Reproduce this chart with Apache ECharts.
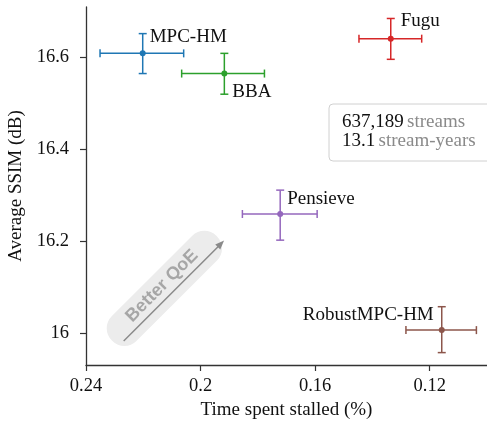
<!DOCTYPE html>
<html>
<head>
<meta charset="utf-8">
<script src="https://cdn.jsdelivr.net/npm/echarts@6/dist/echarts.min.js"></script>
<style>
  html, body { margin: 0; padding: 0; background: #fff; }
  #chart { width: 487px; height: 421px; }
</style>
</head>
<body>
<div id="chart"></div>
<script>
// values
const methods = ['MPC-HM', 'BBA', 'Fugu', 'Pensieve', 'RobustMPC-HM'];
const stallMean = [0.2202, 0.1917, 0.1336, 0.1722, 0.1158];
const stallLow = [0.2059, 0.1777, 0.1228, 0.1593, 0.1037];
const stallHigh = [0.2351, 0.2066, 0.1447, 0.1854, 0.1283];
const ssimMean = [16.609, 16.565, 16.641, 16.259, 16.006];
const ssimLow = [16.565, 16.520, 16.596, 16.202, 15.957];
const ssimHigh = [16.652, 16.609, 16.685, 16.311, 16.057];
const xTicks = [0.24, 0.2, 0.16, 0.12];
const yTicks = [16, 16.2, 16.4, 16.6];

const colors = ['#1f77b4', '#2ca02c', '#d62728', '#9467bd', '#8c564b'];
// label placement per method: [dx, dy, align]
const labelPos = [[7, -16, 'left'], [8, 18, 'left'], [10, -18, 'left'], [7, -15, 'left'], [-8, -15, 'right']];

const serif = '"Liberation Serif", "DejaVu Serif", serif';
const cap = 4;

function renderErr(idx) {
  return function (params, api) {
    const c = api.coord([api.value(0), api.value(1)]);
    const xl = api.coord([api.value(2), api.value(1)]);
    const xh = api.coord([api.value(3), api.value(1)]);
    const yl = api.coord([api.value(0), api.value(4)]);
    const yh = api.coord([api.value(0), api.value(5)]);
    const col = colors[idx];
    const st = { stroke: col, lineWidth: 1.5 };
    const lp = labelPos[idx];
    return {
      type: 'group',
      children: [
        { type: 'line', shape: { x1: xl[0], y1: c[1], x2: xh[0], y2: c[1] }, style: st },
        { type: 'line', shape: { x1: xl[0], y1: c[1] - cap, x2: xl[0], y2: c[1] + cap }, style: st },
        { type: 'line', shape: { x1: xh[0], y1: c[1] - cap, x2: xh[0], y2: c[1] + cap }, style: st },
        { type: 'line', shape: { x1: c[0], y1: yl[1], x2: c[0], y2: yh[1] }, style: st },
        { type: 'line', shape: { x1: c[0] - cap, y1: yl[1], x2: c[0] + cap, y2: yl[1] }, style: st },
        { type: 'line', shape: { x1: c[0] - cap, y1: yh[1], x2: c[0] + cap, y2: yh[1] }, style: st },
        { type: 'circle', shape: { cx: c[0], cy: c[1], r: 3 }, style: { fill: col } },
        {
          type: 'text',
          x: c[0] + lp[0], y: c[1] + lp[1],
          style: {
            text: methods[idx], fill: '#111', font: '19px ' + serif,
            align: lp[2], verticalAlign: 'middle'
          }
        }
      ]
    };
  };
}

const series = methods.map(function (m, i) {
  return {
    name: m,
    type: 'custom',
    renderItem: renderErr(i),
    clip: false,
    data: [[stallMean[i], ssimMean[i], stallLow[i], stallHigh[i], ssimLow[i], ssimHigh[i]]]
  };
});

const chart = echarts.init(document.getElementById('chart'));
chart.setOption({
  animation: false,
  grid: { left: 86, right: 0, top: 7, bottom: 56, outerBoundsMode: 'none' },
  xAxis: {
    type: 'value',
    inverse: true,
    min: 0.1,
    max: 0.24,
    name: 'Time spent stalled (%)',
    nameLocation: 'middle',
    nameGap: 35,
    nameTextStyle: { fontFamily: serif, fontSize: 19, color: '#111' },
    axisLine: { lineStyle: { color: '#333', width: 1.3 } },
    axisTick: { show: true, length: 6, customValues: xTicks, lineStyle: { color: '#333', width: 1.2 } },
    axisLabel: { customValues: xTicks, margin: 12, fontFamily: serif, fontSize: 18.5, color: '#111' },
    splitLine: { show: false }
  },
  yAxis: {
    type: 'value',
    min: 15.93,
    max: 16.71,
    name: 'Average SSIM (dB)',
    nameLocation: 'middle',
    nameGap: 59,
    nameTextStyle: { fontFamily: serif, fontSize: 19, color: '#111' },
    axisLine: { show: true, lineStyle: { color: '#333', width: 1.3 } },
    axisTick: { show: true, length: 6, customValues: yTicks, lineStyle: { color: '#333', width: 1.2 } },
    axisLabel: { customValues: yTicks, margin: 17, fontFamily: serif, fontSize: 18.5, color: '#111' },
    splitLine: { show: false }
  },
  graphic: [
    {
      type: 'rect',
      shape: { x: 329, y: 104, width: 175, height: 57, r: 4 },
      style: { fill: '#fff', stroke: '#d0d0d0', lineWidth: 1 }
    },
    {
      type: 'text',
      x: 342, y: 113,
      style: {
        text: '{a|637,189} {b|streams}\n{a|13.1} {b|stream-years}',
        rich: {
          a: { fontFamily: serif, fontSize: 19, fill: '#111', lineHeight: 19 },
          b: { fontFamily: serif, fontSize: 19, fill: '#8a8a8a', lineHeight: 19 }
        }
      }
    },
    {
      type: 'group',
      x: 164, y: 288,
      rotation: Math.PI / 4,
      children: [
        { type: 'rect', shape: { x: -74, y: -17, width: 148, height: 35, r: 17 }, style: { fill: '#ececec' } },
        {
          type: 'text', x: 0, y: -3,
          style: {
            text: 'Better QoE', align: 'center', verticalAlign: 'middle',
            font: 'bold 18px "Liberation Sans", Arial, sans-serif', fill: '#a6a6a6'
          }
        },
        { type: 'line', shape: { x1: -66, y1: 9, x2: 72, y2: 9 }, style: { stroke: '#8a8a8a', lineWidth: 1.5 } },
        { type: 'polygon', shape: { points: [[76, 9], [67, 5.5], [67, 12.5]] }, style: { fill: '#8a8a8a' } }
      ]
    }
  ],
  series: series
});
</script>
</body>
</html>
